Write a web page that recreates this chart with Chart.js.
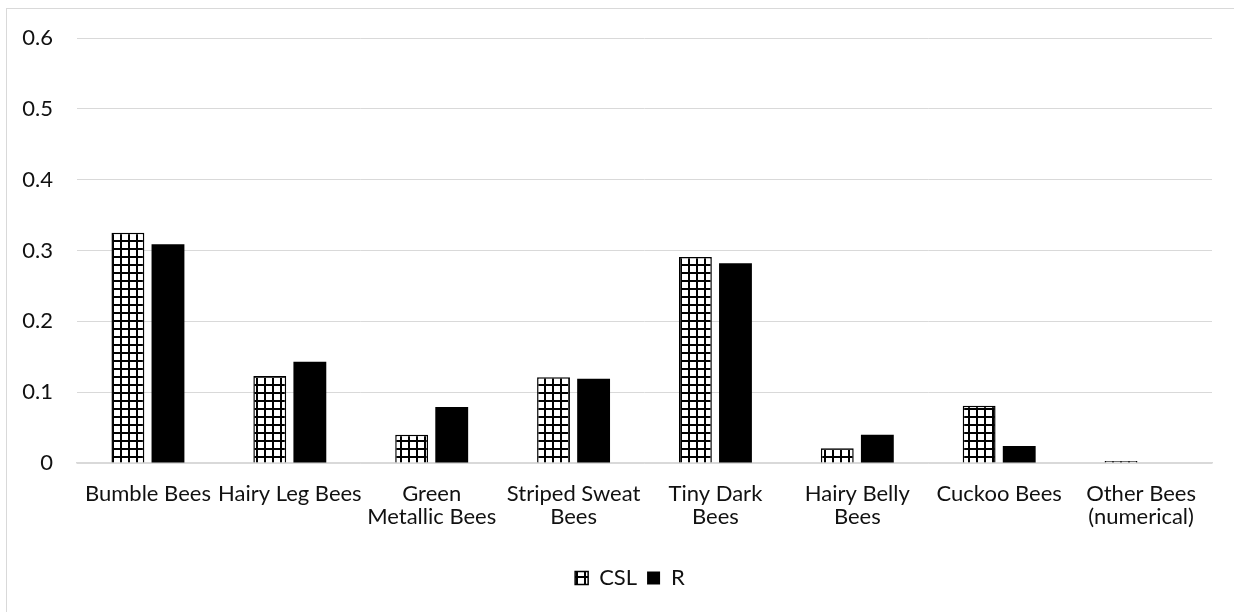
<!DOCTYPE html>
<html>
<head>
<meta charset="utf-8">
<script src="https://cdn.jsdelivr.net/npm/chart.js@4/dist/chart.umd.min.js"></script>
<style>
  html, body { margin: 0; padding: 0; background: #fff; }
  #wrap { width: 1234px; height: 612px; position: relative; }
</style>
</head>
<body>
<div id="wrap"><canvas id="c" width="1234" height="612"></canvas></div>
<script>
// Bee groups and their proportions
const categories = [
  'Bumble Bees',
  'Hairy Leg Bees',
  ['Green', 'Metallic Bees'],
  ['Striped Sweat', 'Bees'],
  ['Tiny Dark', 'Bees'],
  ['Hairy Belly', 'Bees'],
  'Cuckoo Bees',
  ['Other Bees', '(numerical)']
];
const cslValues = [0.325, 0.123, 0.040, 0.121, 0.291, 0.021, 0.081, 0.003];
const rValues   = [0.309, 0.143, 0.079, 0.119, 0.282, 0.040, 0.024, 0];
const yTickLabels = ['0', '0.1', '0.2', '0.3', '0.4', '0.5', '0.6'];

const FONT = 'Lato, "Open Sans", sans-serif';
const TEXT = '#111111';
const GRID = '#d9d9d9';

// Large-grid hatch used for the CSL bars
function gridPattern() {
  const p = document.createElement('canvas');
  p.width = 8; p.height = 8;
  const g = p.getContext('2d');
  g.fillStyle = '#ffffff';
  g.fillRect(0, 0, 8, 8);
  g.fillStyle = '#000000';
  g.fillRect(0, 0, 2, 8);
  g.fillRect(0, 0, 8, 2);
  return g.createPattern(p, 'repeat');
}

const ctx = document.getElementById('c').getContext('2d');
const hatch = gridPattern();

// White page with a light frame around the chart
const framePlugin = {
  id: 'frame',
  beforeDraw(chart) {
    const c = chart.ctx;
    c.save();
    c.fillStyle = '#ffffff';
    c.fillRect(0, 0, chart.width, chart.height);
    c.strokeStyle = GRID;
    c.lineWidth = 1;
    c.strokeRect(6.5, 8.5, 1400, 800);
    c.restore();
  }
};

// Nudge the legend a little to the right of the centre line
const legendShift = {
  id: 'legendShift',
  afterLayout(chart) {
    const lg = chart.legend;
    if (lg) { lg.left += 24; lg.right += 24; }
  }
};

new Chart(ctx, {
  type: 'bar',
  data: {
    labels: categories,
    datasets: [
      {
        label: 'CSL',
        data: cslValues,
        backgroundColor: hatch,
        borderColor: '#000000',
        borderWidth: 1.5,
        barPercentage: 0.82,
        categoryPercentage: 0.565
      },
      {
        label: 'R',
        data: rValues,
        backgroundColor: '#000000',
        borderColor: '#000000',
        borderWidth: 0,
        barPercentage: 0.82,
        categoryPercentage: 0.565
      }
    ]
  },
  options: {
    responsive: false,
    animation: false,
    devicePixelRatio: 1,
    layout: { padding: { left: 0, right: 22, top: 38, bottom: 13 } },
    plugins: {
      legend: {
        position: 'bottom',
        labels: {
          color: TEXT,
          font: { family: FONT, size: 22 },
          boxWidth: 13,
          boxHeight: 13,
          padding: 10
        }
      },
      tooltip: { enabled: false }
    },
    scales: {
      x: {
        grid: { display: false, drawTicks: false },
        border: { display: true, color: GRID, width: 1.5 },
        ticks: {
          color: TEXT,
          font: { family: FONT, size: 22, lineHeight: 1.05 },
          padding: 19,
          maxRotation: 0,
          autoSkip: false
        },
        afterFit(scale) { scale.height = 94; }
      },
      y: {
        min: 0,
        max: 0.6,
        grid: { color: GRID, lineWidth: 1, drawTicks: false },
        border: { display: false },
        ticks: {
          stepSize: 0.1,
          color: TEXT,
          font: { family: FONT, size: 22 },
          padding: 24,
          callback: (v, i) => yTickLabels[i]
        },
        afterFit(scale) { scale.width = 77; }
      }
    }
  },
  plugins: [framePlugin, legendShift]
});
</script>
</body>
</html>
